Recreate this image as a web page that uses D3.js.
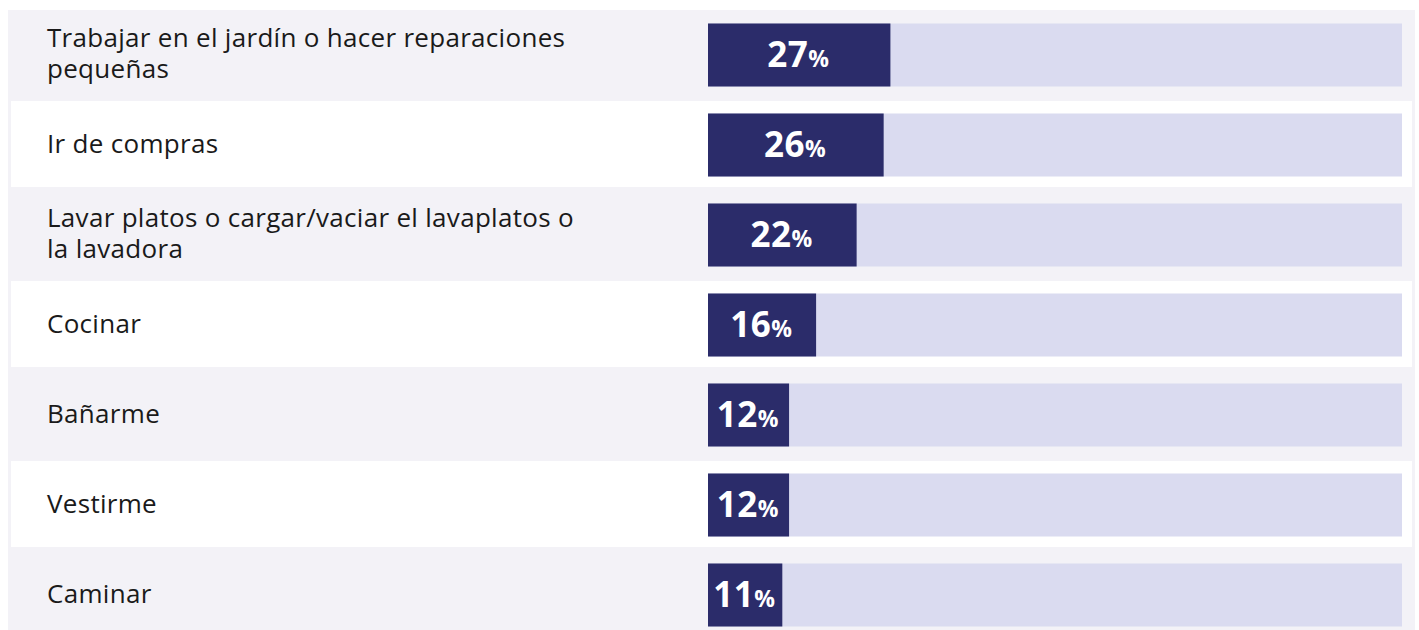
<!DOCTYPE html>
<html>
<head>
<meta charset="utf-8">
<script src="https://cdn.jsdelivr.net/npm/d3@7"></script>
<style>
  html, body { margin: 0; padding: 0; background: #ffffff; }
  svg { display: block; }
</style>
</head>
<body>
<svg id="chart" width="1419" height="630"></svg>
<script>
const categories = [
  "Trabajar en el jardín o hacer reparaciones pequeñas",
  "Ir de compras",
  "Lavar platos o cargar/vaciar el lavaplatos o la lavadora",
  "Cocinar",
  "Bañarme",
  "Vestirme",
  "Caminar"
];
const values = [27, 26, 22, 16, 12, 12, 11];

const W = 1419, H = 630;
const svg = d3.select("#chart");
const FONT = "'Open Sans', 'Noto Sans', sans-serif";

const y = d3.scaleBand().domain(categories).range([10, 640]).paddingInner(0).paddingOuter(0);
const x = d3.scaleLinear().domain([0, 100]).range([708, 1383.6]);
const trackEnd = 1402;

// background
svg.append("rect").attr("x", 8).attr("y", 10).attr("width", 1407).attr("height", H - 10).attr("fill", "#f3f2f7");

// white alternate rows
svg.selectAll("rect.row").data(categories.filter((d, i) => i % 2 === 1)).join("rect")
  .attr("class", "row")
  .attr("x", 11).attr("width", 1401)
  .attr("y", d => y(d) + 1).attr("height", 86)
  .attr("fill", "#ffffff");

const barH = 63;
const barY = d => y(d) + y.bandwidth() / 2 - barH / 2;

// tracks
svg.selectAll("rect.track").data(categories).join("rect")
  .attr("class", "track")
  .attr("x", x(0)).attr("width", trackEnd - x(0))
  .attr("y", barY).attr("height", barH)
  .attr("fill", "#dadbf0");

// bars
svg.selectAll("rect.bar").data(categories).join("rect")
  .attr("class", "bar")
  .attr("x", x(0)).attr("width", (d, i) => x(values[i]) - x(0))
  .attr("y", barY).attr("height", barH)
  .attr("fill", "#2b2c6a");

// value labels
const vl = svg.selectAll("text.val").data(categories).join("text")
  .attr("class", "val")
  .attr("x", (d, i) => (x(0) + x(values[i])) / 2 - 1)
  .attr("y", d => y(d) + y.bandwidth() / 2 + 12.2)
  .attr("text-anchor", "middle")
  .attr("fill", "#ffffff")
  .attr("font-family", FONT)
  .attr("font-weight", 700);
vl.append("tspan").attr("font-size", 35).attr("letter-spacing", 0.5).text((d, i) => values[i]);
vl.append("tspan").attr("font-size", 23).text("%");

// category labels with wrapping
const maxW = 540, lineH = 31, fs = 26;
categories.forEach(cat => {
  const cy = y(cat) + y.bandwidth() / 2;
  const t = svg.append("text")
    .attr("font-family", FONT)
    .attr("font-size", fs)
    .attr("letter-spacing", 0.3)
    .attr("fill", "#1a1a1a");
  const words = cat.split(" ");
  let lines = [], cur = [];
  let tmp = t.append("tspan");
  words.forEach(w => {
    cur.push(w);
    tmp.text(cur.join(" "));
    if (tmp.node().getComputedTextLength() > maxW && cur.length > 1) {
      cur.pop();
      lines.push(cur.join(" "));
      cur = [w];
    }
  });
  lines.push(cur.join(" "));
  tmp.remove();
  const firstBase = cy - ((lines.length - 1) * lineH) / 2 + 7.7;
  lines.forEach((ln, i) => {
    t.append("tspan").attr("x", 47).attr("y", firstBase + i * lineH).text(ln);
  });
});
</script>
</body>
</html>
